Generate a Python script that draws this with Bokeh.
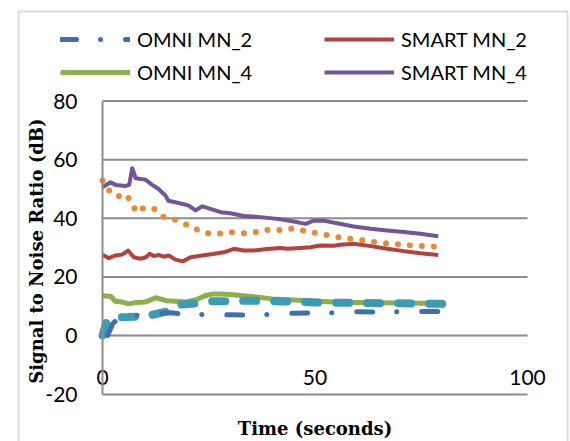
from bokeh.plotting import figure
from bokeh.models import FixedTicker, Legend, LegendItem, BoxAnnotation
from bokeh.embed import file_html
from bokeh.resources import INLINE

# ---- data ----
omni2_x = [1.2, 2.4, 4, 6, 8, 10, 13, 16, 20, 25, 30, 35, 40, 45, 50, 55, 60, 65, 70, 75, 80]
omni2_y = [0, 4, 6.3, 6.8, 6.9, 7.0, 7.5, 7.8, 7.2, 7.1, 7.1, 6.9, 7.3, 7.6, 7.7, 7.8, 8.1, 8.0, 8.1, 8.2, 8.2]

smart2_x = [0, 1.5, 3, 4.6, 6, 7.4, 8.9, 10.1, 11.1, 12.1, 13.2, 14.4, 15.6, 17.2, 18.9, 20.7, 23.4, 26,
            28.5, 30.9, 33.2, 35.6, 38.7, 41.9, 43.5, 46.6, 48.9, 51.3, 54.4, 56, 59.1, 63.1, 67, 70.9, 74.8, 79]
smart2_y = [27.6, 26.4, 27.3, 27.6, 29.0, 26.7, 26.2, 26.6, 27.9, 27.1, 27.5, 26.9, 27.3, 25.9, 25.3, 26.7, 27.3, 27.8,
            28.4, 29.6, 29.0, 29.0, 29.5, 29.9, 29.6, 29.9, 30.1, 30.7, 30.6, 31.0, 31.3, 30.5, 29.6, 28.8, 28.1, 27.5]

omni4_x = [0, 2, 3, 4.6, 6.2, 8, 10, 12.5, 15, 17, 19.5, 22, 24, 26, 28, 30, 35, 40, 45, 50, 55, 60, 65, 70, 75, 80]
omni4_y = [13.6, 13.3, 11.7, 11.4, 10.8, 11.3, 11.4, 12.9, 11.9, 11.7, 11.4, 12.2, 13.5, 14.2, 14.2, 14.0, 13.3,
           12.5, 12.1, 11.7, 11.4, 11.3, 11.2, 11.1, 11.0, 11.0]

smart4_x = [0, 1.9, 3.1, 5.4, 6.3, 7.0, 7.8, 10.1, 11.7, 13.2, 14.8, 15.5, 17.9, 20.2, 21.9, 23.5, 25, 27.8, 30.1,
            33.2, 37.2, 41.1, 45, 47.8, 49.7, 52, 55.2, 59.1, 63.1, 67, 70.9, 74.8, 79]
smart4_y = [50.6, 52.3, 51.4, 51.0, 51.5, 57.1, 53.7, 53.2, 51.4, 50.0, 47.8, 46.0, 45.2, 44.4, 42.7, 44.1, 43.4,
            42.1, 41.7, 40.8, 40.4, 39.8, 38.9, 38.1, 39.2, 39.2, 38.3, 37.2, 36.4, 35.8, 35.3, 34.7, 33.9]

orange_x = [0, 1.3, 3.5, 5.3, 6.8, 7.9, 10, 12.2, 14.2, 16.6, 19.1, 21.6, 24.2, 27.1, 29.9, 32.6, 35.4, 38, 40.8,
            43.4, 46.2, 48.9, 51.7, 54.4, 57.3, 60.2, 63.1, 65.8, 68.7, 71.5, 74.3, 77.2, 79]
orange_y = [52.9, 49.8, 47.4, 48.4, 45.8, 42.1, 43.8, 43.2, 40.6, 39.8, 38.3, 36.6, 34.9, 34.7, 35.3, 34.9, 35.0,
            36.1, 35.8, 36.6, 36.2, 35.3, 34.6, 33.8, 33.2, 32.7, 32.1, 31.6, 31.3, 30.9, 30.6, 30.4, 30.3]

teal_x = [0, 1, 3, 6, 8, 11, 13, 15.5, 18, 22, 25, 30, 35, 40, 45, 50, 55, 60, 65, 70, 75, 80]
teal_y = [0, 5, 6.2, 6.3, 6.4, 6.8, 7.5, 8.3, 10.5, 11, 11.7, 11.7, 11.9, 11.7, 11.6, 11.3, 11.2, 11.1, 11.0,
          11.0, 10.9, 10.8]

x_ticks = [0, 50, 100]
y_ticks = [-20, 0, 20, 40, 60, 80]
grid_ticks = [0, 20, 40, 60, 80]
y_tick_labels = {-20: "-20", 0: "0", 20: "20", 40: "40", 60: "60", 80: "80"}

GRAY = "#8c8c8c"
TICK_FONT = "Lato"

# plot area: x 0..100 spans 425 px from px 102; y -20..80 spans 293 px with y=0 at px 335
W, H = 570, 441
x_lo, x_hi = -102 / 4.25, (W - 102) / 4.25
y_lo, y_hi = (335 - H) / 2.93, 335 / 2.93

p = figure(width=W, height=H, x_range=(x_lo, x_hi), y_range=(y_lo, y_hi),
           output_backend="svg", toolbar_location=None, title=None, min_border=0)
p.outline_line_color = None
p.background_fill_color = "white"
p.border_fill_color = "white"
p.xgrid.visible = False
p.ygrid.visible = False

for ax in (p.xaxis[0], p.yaxis[0]):
    ax.axis_line_color = GRAY
    ax.axis_line_width = 2
    ax.major_tick_line_color = None
    ax.minor_tick_line_color = None
    ax.major_tick_out = 0
    ax.major_tick_in = 0
    ax.major_label_text_font = TICK_FONT
    ax.major_label_text_font_size = "21px"
    ax.major_label_text_color = "black"
    ax.axis_label_text_font = "DejaVu Serif"
    ax.axis_label_text_font_style = "bold"
    ax.axis_label_text_font_size = "18px"
    ax.axis_label_text_color = "black"

p.xaxis.ticker = FixedTicker(ticks=x_ticks)
p.xaxis.fixed_location = y_ticks[0]
p.xaxis.bounds = (x_ticks[0], x_ticks[-1])
p.xaxis.major_label_standoff = -24
p.xaxis.axis_label = "Time (seconds)"
p.xaxis.axis_label_standoff = 29

p.yaxis.ticker = FixedTicker(ticks=y_ticks)
p.yaxis.fixed_location = x_ticks[0]
p.yaxis.bounds = (y_ticks[0], y_ticks[-1])
p.yaxis.major_label_overrides = y_tick_labels
p.yaxis.major_label_standoff = 25
p.yaxis.axis_label = "Signal to Noise Ratio  (dB)"
p.yaxis.axis_label_standoff = -5

# horizontal gridlines across the plot area
p.segment(x0=[x_ticks[0]] * len(grid_ticks), x1=[x_ticks[-1]] * len(grid_ticks),
          y0=grid_ticks, y1=grid_ticks, line_color=GRAY, line_width=2)

r_smart2 = p.line(smart2_x, smart2_y, line_color="#b3423e", line_width=4, line_join="round")
r_omni4 = p.line(omni4_x, omni4_y, line_color="#8db04c", line_width=5, line_join="round")
r_smart4 = p.line(smart4_x, smart4_y, line_color="#71569a", line_width=4, line_join="round")
r_orange = p.line(orange_x, orange_y, line_color="#e8883a", line_width=6, line_dash="0 12", line_cap="round")
r_teal = p.line(teal_x, teal_y, line_color="#3d9bb3", line_width=8, line_dash="13 18", line_cap="round")
r_omni2 = p.line(omni2_x, omni2_y, line_color="#3f6fae", line_width=5, line_dash="16 24 0 25", line_cap="round")

legend = Legend(items=[LegendItem(label="OMNI MN_2", renderers=[r_omni2]),
                       LegendItem(label="OMNI MN_4", renderers=[r_omni4]),
                       LegendItem(label="SMART MN_2", renderers=[r_smart2]),
                       LegendItem(label="SMART MN_4", renderers=[r_smart4])],
                location=(60, 357), orientation="vertical", ncols=2,
                padding=0, margin=0, spacing=9, glyph_width=70, glyph_height=20,
                label_standoff=7, label_width=178, label_text_font=TICK_FONT, label_text_font_size="20px",
                label_text_color="black", border_line_color=None, background_fill_alpha=0)
p.add_layout(legend, "center")

chart_box = BoxAnnotation(left=18, right=567, top=11, bottom=480,
                          left_units="canvas", right_units="canvas", top_units="canvas", bottom_units="canvas",
                          fill_alpha=0, line_color=GRAY, line_width=2)
p.add_layout(chart_box)

open("out.html", "w").write(file_html(p, INLINE))
